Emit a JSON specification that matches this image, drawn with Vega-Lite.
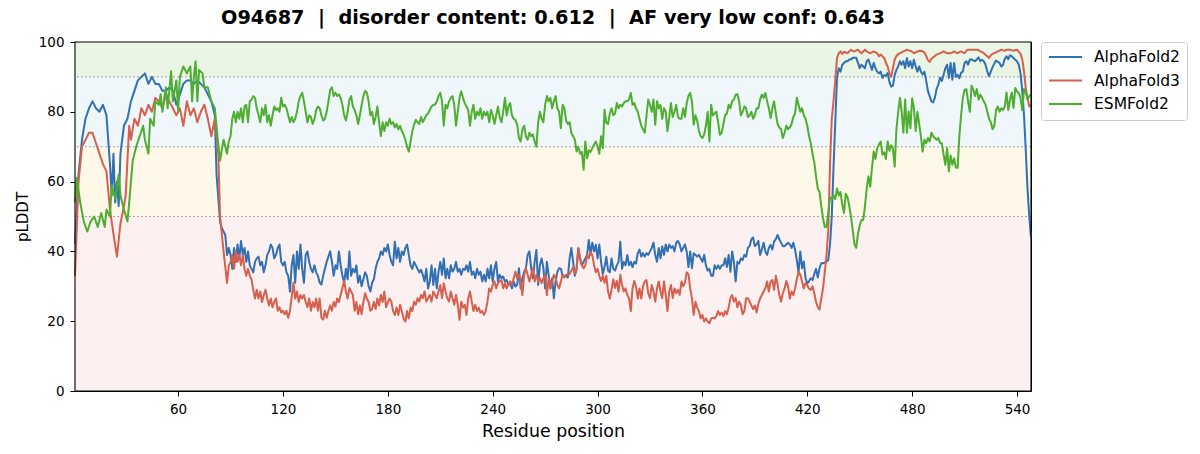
{
  "$schema": "https://vega.github.io/schema/vega-lite/v6.json",
  "width": 956,
  "height": 349,
  "autosize": {"type": "none"},
  "padding": {"left": 75, "top": 42, "right": 169, "bottom": 63},
  "background": "#ffffff",
  "title": {
    "text": "O94687\u00a0\u00a0|\u00a0\u00a0disorder content: 0.612\u00a0\u00a0|\u00a0\u00a0AF very low conf: 0.643",
    "anchor": "middle",
    "frame": "group",
    "font": "DejaVu Sans",
    "fontSize": 19.3,
    "fontWeight": "bold",
    "color": "#000000",
    "baseline": "alphabetic",
    "offset": 17,
    "dy": 25
  },
  "config": {
    "font": "DejaVu Sans",
    "view": {"stroke": "#000000", "strokeWidth": 1},
    "axis": {
      "labelFont": "DejaVu Sans",
      "titleFont": "DejaVu Sans",
      "labelColor": "#000000",
      "titleColor": "#000000",
      "tickColor": "#000000",
      "domain": false,
      "grid": false,
      "labelFontSize": 13.5,
      "tickSize": 5,
      "tickWidth": 1,
      "titleFontWeight": "normal"
    }
  },
  "datasets": {
    "bands": [
      {"lo": 0, "hi": 50, "tier": "very low"},
      {"lo": 50, "hi": 70, "tier": "low"},
      {"lo": 70, "hi": 90, "tier": "confident"},
      {"lo": 90, "hi": 100, "tier": "very high"}
    ],
    "cutoffs": [{"t": 50}, {"t": 70}, {"t": 90}],
    "frame": [{"x0": 1, "x1": 548, "y0": 0, "y1": 100}],
    "af2": [
      {"r":1,"v":42},{"r":3,"v":62},{"r":5,"v":72},{"r":7,"v":78},{"r":9,"v":81},{"r":11,"v":83},{"r":13,"v":81},{"r":15,"v":80},{"r":17,"v":82},{"r":19,"v":79},
      {"r":21,"v":65},{"r":22,"v":56},{"r":23,"v":68},{"r":24,"v":54},{"r":25,"v":60},{"r":26,"v":53},{"r":27,"v":68},{"r":29,"v":76},{"r":31,"v":78},{"r":33,"v":83},
      {"r":35,"v":86},{"r":37,"v":89},{"r":39,"v":90},{"r":41,"v":91},{"r":43,"v":88},{"r":45,"v":90},{"r":47,"v":88},{"r":49,"v":88},{"r":51,"v":86},{"r":53,"v":86},
      {"r":55,"v":87},{"r":57,"v":86},{"r":59,"v":82},{"r":61,"v":85},{"r":63,"v":88},{"r":65,"v":89},{"r":67,"v":89},{"r":69,"v":88},{"r":71,"v":89},{"r":73,"v":88},
      {"r":75,"v":87},{"r":77,"v":85},{"r":79,"v":83},{"r":81,"v":79},{"r":82,"v":62},{"r":84,"v":48.5},{"r":85,"v":46.7},{"r":87,"v":44.7},{"r":88,"v":39},{"r":89,"v":41},
      {"r":90,"v":39},{"r":91,"v":35},{"r":92,"v":41},{"r":93,"v":37},{"r":94,"v":42},{"r":95,"v":38},{"r":96,"v":43},{"r":97,"v":39},{"r":98,"v":41},{"r":99,"v":37},
      {"r":100,"v":40},{"r":101,"v":36},{"r":102,"v":35},{"r":103,"v":34},{"r":104,"v":37},{"r":105,"v":38},{"r":106,"v":38.5},{"r":107,"v":36},{"r":108,"v":37},{"r":109,"v":34},
      {"r":110,"v":36},{"r":111,"v":39},{"r":112,"v":40},{"r":113,"v":42},{"r":114,"v":41},{"r":115,"v":38},{"r":116,"v":39},{"r":117,"v":41},{"r":118,"v":42},{"r":119,"v":37},
      {"r":120,"v":36},{"r":121,"v":37},{"r":122,"v":34},{"r":123,"v":33},{"r":124,"v":28.5},{"r":125,"v":36},{"r":126,"v":39},{"r":127,"v":31},{"r":128,"v":40},{"r":129,"v":35},
      {"r":130,"v":42},{"r":131,"v":35},{"r":132,"v":31},{"r":133,"v":39},{"r":134,"v":40},{"r":135,"v":37},{"r":136,"v":35},{"r":137,"v":34},{"r":138,"v":36},{"r":139,"v":34},
      {"r":140,"v":33},{"r":141,"v":31},{"r":142,"v":30.5},{"r":143,"v":33},{"r":144,"v":35},{"r":145,"v":37},{"r":146,"v":38.5},{"r":147,"v":40},{"r":148,"v":37},{"r":149,"v":33},
      {"r":150,"v":36},{"r":151,"v":35},{"r":152,"v":40},{"r":153,"v":36},{"r":154,"v":33},{"r":155,"v":31},{"r":156,"v":35},{"r":157,"v":32},{"r":158,"v":40},{"r":159,"v":33},
      {"r":160,"v":35},{"r":161,"v":34},{"r":162,"v":36},{"r":163,"v":31},{"r":164,"v":33},{"r":165,"v":30},{"r":166,"v":32},{"r":167,"v":34},{"r":168,"v":33},{"r":169,"v":30},
      {"r":170,"v":28.5},{"r":171,"v":31},{"r":172,"v":32},{"r":173,"v":35},{"r":174,"v":37},{"r":175,"v":38},{"r":176,"v":40},{"r":177,"v":39},{"r":178,"v":41},{"r":179,"v":40},
      {"r":180,"v":42},{"r":181,"v":39},{"r":182,"v":37},{"r":183,"v":36},{"r":184,"v":42.8},{"r":185,"v":38},{"r":186,"v":41},{"r":187,"v":37},{"r":188,"v":40},{"r":189,"v":39},
      {"r":190,"v":41},{"r":191,"v":42},{"r":192,"v":39},{"r":193,"v":36},{"r":194,"v":35},{"r":195,"v":37},{"r":196,"v":36},{"r":197,"v":35},{"r":198,"v":34},{"r":199,"v":34.7},
      {"r":200,"v":33.3},{"r":201,"v":31.4},{"r":202,"v":35},{"r":203,"v":29.4},{"r":204,"v":31.4},{"r":205,"v":36},{"r":206,"v":30.4},{"r":207,"v":35},{"r":208,"v":29.4},{"r":209,"v":34.2},
      {"r":210,"v":37},{"r":211,"v":33.3},{"r":212,"v":38},{"r":213,"v":32.3},{"r":214,"v":35},{"r":215,"v":32.3},{"r":216,"v":36},{"r":217,"v":34.2},{"r":218,"v":35},{"r":219,"v":37},
      {"r":220,"v":34.2},{"r":221,"v":35},{"r":222,"v":33.3},{"r":223,"v":35},{"r":224,"v":34.7},{"r":225,"v":36},{"r":226,"v":34.2},{"r":227,"v":37},{"r":228,"v":33.3},{"r":229,"v":34.2},
      {"r":230,"v":32.3},{"r":231,"v":35},{"r":232,"v":33.3},{"r":233,"v":34.2},{"r":234,"v":31.4},{"r":235,"v":33.3},{"r":236,"v":31.4},{"r":237,"v":35},{"r":238,"v":32.3},{"r":239,"v":36},
      {"r":240,"v":31.4},{"r":241,"v":35},{"r":242,"v":37},{"r":243,"v":31.4},{"r":244,"v":33.3},{"r":245,"v":32.3},{"r":246,"v":32.8},{"r":247,"v":31.4},{"r":248,"v":31.8},{"r":249,"v":30.4},
      {"r":250,"v":30.9},{"r":251,"v":29.4},{"r":252,"v":31.4},{"r":253,"v":29.9},{"r":254,"v":30.4},{"r":255,"v":35.2},{"r":256,"v":29.4},{"r":257,"v":32.3},{"r":258,"v":34.2},{"r":259,"v":35.2},
      {"r":260,"v":39},{"r":261,"v":40},{"r":262,"v":35.2},{"r":263,"v":32.3},{"r":264,"v":37},{"r":265,"v":40.4},{"r":266,"v":30.4},{"r":267,"v":36},{"r":268,"v":38},{"r":269,"v":35.2},
      {"r":270,"v":29.4},{"r":271,"v":37},{"r":272,"v":33.3},{"r":273,"v":29.4},{"r":274,"v":32.3},{"r":275,"v":26.6},{"r":276,"v":31.4},{"r":277,"v":34.2},{"r":278,"v":35.2},{"r":279,"v":35},
      {"r":280,"v":33},{"r":281,"v":33},{"r":282,"v":33},{"r":283,"v":32.5},{"r":284,"v":38},{"r":285,"v":41},{"r":286,"v":37},{"r":287,"v":33},{"r":288,"v":35},{"r":289,"v":40.9},
      {"r":290,"v":38},{"r":291,"v":36},{"r":292,"v":37},{"r":293,"v":38},{"r":294,"v":39},{"r":295,"v":43.3},{"r":296,"v":39},{"r":297,"v":42.5},{"r":298,"v":40},{"r":299,"v":41.9},
      {"r":300,"v":38},{"r":301,"v":42},{"r":302,"v":37},{"r":303,"v":33.5},{"r":304,"v":35.5},{"r":305,"v":38.5},{"r":306,"v":34.5},{"r":307,"v":34},{"r":308,"v":38},{"r":309,"v":35},
      {"r":310,"v":34.5},{"r":311,"v":36},{"r":312,"v":37},{"r":313,"v":42.8},{"r":314,"v":35},{"r":315,"v":37},{"r":316,"v":36},{"r":317,"v":39},{"r":318,"v":36},{"r":319,"v":37},
      {"r":320,"v":35.5},{"r":321,"v":37},{"r":322,"v":36.5},{"r":323,"v":39.5},{"r":324,"v":40.5},{"r":325,"v":38.5},{"r":326,"v":39.5},{"r":327,"v":38.5},{"r":328,"v":39.5},{"r":329,"v":39},
      {"r":330,"v":40},{"r":331,"v":41},{"r":332,"v":42.5},{"r":333,"v":39},{"r":334,"v":37},{"r":335,"v":41},{"r":336,"v":38},{"r":337,"v":41.5},{"r":338,"v":39},{"r":339,"v":42},
      {"r":340,"v":40},{"r":341,"v":42},{"r":342,"v":41},{"r":343,"v":41.5},{"r":344,"v":40},{"r":345,"v":42.5},{"r":346,"v":43},{"r":347,"v":42},{"r":348,"v":40},{"r":349,"v":41},
      {"r":350,"v":42},{"r":351,"v":40},{"r":352,"v":35.5},{"r":353,"v":40},{"r":354,"v":35.2},{"r":355,"v":39.5},{"r":356,"v":39},{"r":357,"v":38.5},{"r":358,"v":39},{"r":359,"v":38},
      {"r":360,"v":37},{"r":361,"v":39},{"r":362,"v":36},{"r":363,"v":34.5},{"r":364,"v":35},{"r":365,"v":33},{"r":366,"v":33},{"r":367,"v":36},{"r":368,"v":35},{"r":369,"v":36},
      {"r":370,"v":35},{"r":371,"v":36},{"r":372,"v":36},{"r":373,"v":38},{"r":374,"v":35.5},{"r":375,"v":39},{"r":376,"v":34.2},{"r":377,"v":40},{"r":378,"v":37},{"r":379,"v":31.4},
      {"r":380,"v":37},{"r":381,"v":36.5},{"r":382,"v":38},{"r":383,"v":37.5},{"r":384,"v":39},{"r":385,"v":38.5},{"r":386,"v":41},{"r":387,"v":41.5},{"r":388,"v":43.5},{"r":389,"v":44},
      {"r":390,"v":41.5},{"r":391,"v":42},{"r":392,"v":43},{"r":393,"v":39},{"r":394,"v":40.5},{"r":395,"v":42.5},{"r":396,"v":40},{"r":397,"v":39},{"r":398,"v":41},{"r":399,"v":41.9},
      {"r":400,"v":40.5},{"r":401,"v":42.8},{"r":402,"v":43.5},{"r":403,"v":44.7},{"r":404,"v":43.5},{"r":405,"v":42.5},{"r":406,"v":41.5},{"r":407,"v":41.5},{"r":408,"v":42},{"r":409,"v":42.5},
      {"r":410,"v":42},{"r":411,"v":41},{"r":412,"v":42.5},{"r":413,"v":40.5},{"r":414,"v":37.5},{"r":415,"v":34},{"r":416,"v":40},{"r":417,"v":35.2},{"r":418,"v":37.1},{"r":419,"v":32.3},
      {"r":420,"v":30.8},{"r":421,"v":31.5},{"r":422,"v":32.3},{"r":423,"v":31.8},{"r":424,"v":33.5},{"r":425,"v":35},{"r":426,"v":32.5},{"r":427,"v":35.2},{"r":428,"v":36.6},{"r":429,"v":36.6},
      {"r":430,"v":36.8},{"r":431,"v":37},{"r":432,"v":37.5},{"r":433,"v":42},{"r":434,"v":50},{"r":435,"v":64},{"r":436,"v":77},{"r":437,"v":89.7},{"r":438,"v":92.5},{"r":439,"v":91.5},
      {"r":440,"v":93.5},{"r":441,"v":94},{"r":442,"v":94.5},{"r":443,"v":94.5},{"r":444,"v":95},{"r":445,"v":95},{"r":446,"v":95.5},{"r":447,"v":95.5},{"r":448,"v":95.5},{"r":449,"v":94},
      {"r":450,"v":92.5},{"r":451,"v":93.5},{"r":452,"v":93},{"r":453,"v":92.5},{"r":454,"v":94.5},{"r":455,"v":95},{"r":456,"v":93.5},{"r":457,"v":92},{"r":458,"v":94},{"r":459,"v":92.5},
      {"r":460,"v":91.5},{"r":461,"v":91},{"r":462,"v":91.5},{"r":463,"v":89.7},{"r":464,"v":90.5},{"r":465,"v":90.3},{"r":466,"v":91.1},{"r":467,"v":88.5},{"r":468,"v":87.2},{"r":469,"v":87.5},
      {"r":470,"v":90.5},{"r":471,"v":92},{"r":472,"v":93},{"r":473,"v":94.5},{"r":474,"v":93.5},{"r":475,"v":94.5},{"r":476,"v":92.5},{"r":477,"v":95.4},{"r":478,"v":93},{"r":479,"v":94.5},
      {"r":480,"v":92.5},{"r":481,"v":94.9},{"r":482,"v":93},{"r":483,"v":91.5},{"r":484,"v":93},{"r":485,"v":91.5},{"r":486,"v":90.7},{"r":487,"v":91.5},{"r":488,"v":89},{"r":489,"v":86},
      {"r":490,"v":84.5},{"r":491,"v":83},{"r":492,"v":82.7},{"r":493,"v":84},{"r":494,"v":86.6},{"r":495,"v":87.8},{"r":496,"v":89.8},{"r":497,"v":88.8},{"r":498,"v":90.6},{"r":499,"v":92.5},
      {"r":500,"v":93.5},{"r":501,"v":89.7},{"r":502,"v":94},{"r":503,"v":89.2},{"r":504,"v":94},{"r":505,"v":90},{"r":506,"v":90.6},{"r":507,"v":89.6},{"r":508,"v":91.2},{"r":509,"v":91.5},
      {"r":510,"v":94},{"r":511,"v":94.5},{"r":512,"v":93.5},{"r":513,"v":95},{"r":514,"v":95},{"r":515,"v":94.7},{"r":516,"v":94.5},{"r":517,"v":95},{"r":518,"v":95.6},{"r":519,"v":94.5},
      {"r":520,"v":94.9},{"r":521,"v":94.5},{"r":522,"v":93.5},{"r":523,"v":91.5},{"r":524,"v":90.2},{"r":525,"v":91.5},{"r":526,"v":92.8},{"r":527,"v":93.8},{"r":528,"v":94.7},{"r":529,"v":94.3},
      {"r":530,"v":94},{"r":531,"v":93},{"r":532,"v":93.5},{"r":533,"v":95.2},{"r":534,"v":95.9},{"r":535,"v":95.1},{"r":536,"v":96.2},{"r":537,"v":95.9},{"r":538,"v":95.4},{"r":539,"v":94.9},
      {"r":540,"v":94.5},{"r":541,"v":93.5},{"r":542,"v":91},{"r":543,"v":86},{"r":544,"v":79},{"r":545,"v":69},{"r":546,"v":58},{"r":547,"v":50},{"r":548,"v":44}
    ],
    "af3": [
      {"r":1,"v":33},{"r":3,"v":60},{"r":5,"v":70},{"r":7,"v":72},{"r":9,"v":74},{"r":11,"v":74},{"r":13,"v":71},{"r":15,"v":68},{"r":17,"v":65},{"r":19,"v":63},
      {"r":21,"v":52},{"r":23,"v":45},{"r":25,"v":38.5},{"r":27,"v":48},{"r":29,"v":53},{"r":30,"v":56},{"r":31,"v":66},{"r":32,"v":76},{"r":33,"v":72},{"r":35,"v":78},
      {"r":37,"v":76},{"r":39,"v":81},{"r":41,"v":79},{"r":43,"v":82},{"r":45,"v":80},{"r":47,"v":84},{"r":49,"v":83},{"r":51,"v":81},{"r":53,"v":85},{"r":55,"v":83},
      {"r":57,"v":81},{"r":59,"v":79},{"r":61,"v":81},{"r":63,"v":76},{"r":65,"v":83},{"r":67,"v":79},{"r":69,"v":81},{"r":71,"v":77},{"r":73,"v":80},{"r":75,"v":82},
      {"r":77,"v":78},{"r":79,"v":73},{"r":81,"v":78},{"r":83,"v":68},{"r":84,"v":50},{"r":86,"v":40},{"r":88,"v":31},{"r":89,"v":36},
      {"r":90,"v":37},{"r":91,"v":39},{"r":92,"v":35},{"r":93,"v":40},{"r":94,"v":37},{"r":95,"v":39},{"r":96,"v":36},{"r":97,"v":39},{"r":98,"v":35},{"r":99,"v":33},
      {"r":100,"v":35},{"r":101,"v":33},{"r":102,"v":32},{"r":103,"v":29},{"r":104,"v":26.5},{"r":105,"v":29},{"r":106,"v":26.5},{"r":107,"v":28.5},{"r":108,"v":25.5},{"r":109,"v":27.5},
      {"r":110,"v":29},{"r":111,"v":26.5},{"r":112,"v":24.5},{"r":113,"v":26.5},{"r":114,"v":24},{"r":115,"v":25.5},{"r":116,"v":26.5},{"r":117,"v":23},{"r":118,"v":24},{"r":119,"v":22.5},
      {"r":120,"v":23},{"r":121,"v":22},{"r":122,"v":23},{"r":123,"v":21},{"r":124,"v":23},{"r":125,"v":27},{"r":126,"v":31},{"r":127,"v":26.5},{"r":128,"v":28.5},{"r":129,"v":25.5},
      {"r":130,"v":27.5},{"r":131,"v":26.5},{"r":132,"v":27.5},{"r":133,"v":25.5},{"r":134,"v":24},{"r":135,"v":26.5},{"r":136,"v":23},{"r":137,"v":25.5},{"r":138,"v":24},{"r":139,"v":26.5},
      {"r":140,"v":23},{"r":141,"v":26.5},{"r":142,"v":21},{"r":143,"v":20.5},{"r":144,"v":23},{"r":145,"v":21},{"r":146,"v":23},{"r":147,"v":24.5},{"r":148,"v":23},{"r":149,"v":25.5},
      {"r":150,"v":24.2},{"r":151,"v":26.5},{"r":152,"v":25.5},{"r":153,"v":27.5},{"r":154,"v":29.5},{"r":155,"v":31.5},{"r":156,"v":28.5},{"r":157,"v":26.5},{"r":158,"v":29.5},{"r":159,"v":28.5},
      {"r":160,"v":27.5},{"r":161,"v":23},{"r":162,"v":25.5},{"r":163,"v":22},{"r":164,"v":24.5},{"r":165,"v":22},{"r":166,"v":25.5},{"r":167,"v":28},{"r":168,"v":26.5},{"r":169,"v":25.5},
      {"r":170,"v":23},{"r":171,"v":23.5},{"r":172,"v":25.5},{"r":173,"v":23.5},{"r":174,"v":26.5},{"r":175,"v":24.5},{"r":176,"v":27.5},{"r":177,"v":25.5},{"r":178,"v":28.5},{"r":179,"v":24},
      {"r":180,"v":25.5},{"r":181,"v":26.5},{"r":182,"v":25.6},{"r":183,"v":22.9},{"r":184,"v":21.8},{"r":185,"v":23.9},{"r":186,"v":21.8},{"r":187,"v":24.7},{"r":188,"v":22.9},{"r":189,"v":20.8},
      {"r":190,"v":19.9},{"r":191,"v":22.9},{"r":192,"v":20.8},{"r":193,"v":23.9},{"r":194,"v":22.9},{"r":195,"v":25.6},{"r":196,"v":24.7},{"r":197,"v":26.6},{"r":198,"v":25.6},{"r":199,"v":27.5},
      {"r":200,"v":26.6},{"r":201,"v":28.5},{"r":202,"v":25.6},{"r":203,"v":26.6},{"r":204,"v":27.5},{"r":205,"v":25.6},{"r":206,"v":28.5},{"r":207,"v":27.5},{"r":208,"v":26.6},{"r":209,"v":28.5},
      {"r":210,"v":30.4},{"r":211,"v":26.6},{"r":212,"v":30.9},{"r":213,"v":28.5},{"r":214,"v":26.6},{"r":215,"v":25.6},{"r":216,"v":28.5},{"r":217,"v":26.6},{"r":218,"v":24.7},{"r":219,"v":27.5},
      {"r":220,"v":24.7},{"r":221,"v":20.4},{"r":222,"v":25.6},{"r":223,"v":23.9},{"r":224,"v":24.7},{"r":225,"v":21.8},{"r":226,"v":26.6},{"r":227,"v":28.5},{"r":228,"v":25.6},{"r":229,"v":22.9},
      {"r":230,"v":24.7},{"r":231,"v":22.9},{"r":232,"v":23.9},{"r":233,"v":22.4},{"r":234,"v":22.9},{"r":235,"v":21.8},{"r":236,"v":22.9},{"r":237,"v":25.6},{"r":238,"v":29.4},{"r":239,"v":28.5},
      {"r":240,"v":30.4},{"r":241,"v":31.4},{"r":242,"v":29.4},{"r":243,"v":30.9},{"r":244,"v":31.4},{"r":245,"v":31.8},{"r":246,"v":29.4},{"r":247,"v":30.9},{"r":248,"v":29.4},{"r":249,"v":30.4},
      {"r":250,"v":31.4},{"r":251,"v":30.4},{"r":252,"v":32.3},{"r":253,"v":34.2},{"r":254,"v":32.3},{"r":255,"v":33.3},{"r":256,"v":31.4},{"r":257,"v":27.5},{"r":258,"v":33.3},{"r":259,"v":35.2},
      {"r":260,"v":33.3},{"r":261,"v":31.4},{"r":262,"v":33.3},{"r":263,"v":35.2},{"r":264,"v":31.4},{"r":265,"v":33.3},{"r":266,"v":31.4},{"r":267,"v":32.3},{"r":268,"v":30.9},{"r":269,"v":32.3},
      {"r":270,"v":33.3},{"r":271,"v":27.5},{"r":272,"v":32.3},{"r":273,"v":29.4},{"r":274,"v":31.4},{"r":275,"v":33.3},{"r":276,"v":32.3},{"r":277,"v":30.4},{"r":278,"v":29.4},{"r":279,"v":31.4},
      {"r":280,"v":33.3},{"r":281,"v":32.5},{"r":282,"v":33.3},{"r":283,"v":33.3},{"r":284,"v":33.5},{"r":285,"v":34.5},{"r":286,"v":35.5},{"r":287,"v":33.5},{"r":288,"v":35},{"r":289,"v":40.9},
      {"r":290,"v":38},{"r":291,"v":36},{"r":292,"v":35.2},{"r":293,"v":36},{"r":294,"v":39},{"r":295,"v":38},{"r":296,"v":40},{"r":297,"v":39},{"r":298,"v":36},{"r":299,"v":34},
      {"r":300,"v":35},{"r":301,"v":33},{"r":302,"v":31.5},{"r":303,"v":33},{"r":304,"v":31},{"r":305,"v":33},{"r":306,"v":28.5},{"r":307,"v":26.5},{"r":308,"v":29},{"r":309,"v":32},
      {"r":310,"v":29.5},{"r":311,"v":31.5},{"r":312,"v":28.5},{"r":313,"v":33.3},{"r":314,"v":30.4},{"r":315,"v":28.5},{"r":316,"v":29.4},{"r":317,"v":27.5},{"r":318,"v":26.6},{"r":319,"v":22.9},
      {"r":320,"v":29.4},{"r":321,"v":31.5},{"r":322,"v":30},{"r":323,"v":26.5},{"r":324,"v":29.4},{"r":325,"v":26.5},{"r":326,"v":30},{"r":327,"v":31.4},{"r":328,"v":31.8},{"r":329,"v":28},
      {"r":330,"v":26.6},{"r":331,"v":30.4},{"r":332,"v":28.5},{"r":333,"v":25.6},{"r":334,"v":29.4},{"r":335,"v":31.4},{"r":336,"v":28.5},{"r":337,"v":26.6},{"r":338,"v":31.4},{"r":339,"v":27.5},
      {"r":340,"v":22.9},{"r":341,"v":28.5},{"r":342,"v":30.4},{"r":343,"v":26.6},{"r":344,"v":29.4},{"r":345,"v":28},{"r":346,"v":29},{"r":347,"v":27.5},{"r":348,"v":31.4},{"r":349,"v":30},
      {"r":350,"v":31},{"r":351,"v":34},{"r":352,"v":33.5},{"r":353,"v":29.4},{"r":354,"v":26.6},{"r":355,"v":21.8},{"r":356,"v":25.6},{"r":357,"v":23.9},{"r":358,"v":22.9},{"r":359,"v":20.8},
      {"r":360,"v":21.8},{"r":361,"v":19.9},{"r":362,"v":20.8},{"r":363,"v":19.9},{"r":364,"v":19.4},{"r":365,"v":20.8},{"r":366,"v":21},{"r":367,"v":20.8},{"r":368,"v":21.5},{"r":369,"v":22.9},
      {"r":370,"v":21.8},{"r":371,"v":22.5},{"r":372,"v":21.5},{"r":373,"v":22.9},{"r":374,"v":22},{"r":375,"v":23.9},{"r":376,"v":26.6},{"r":377,"v":27.5},{"r":378,"v":25.6},{"r":379,"v":26.6},
      {"r":380,"v":24},{"r":381,"v":25.6},{"r":382,"v":24.7},{"r":383,"v":22},{"r":384,"v":22.9},{"r":385,"v":26.6},{"r":386,"v":26.6},{"r":387,"v":25.6},{"r":388,"v":24.5},{"r":389,"v":23.5},
      {"r":390,"v":24.5},{"r":391,"v":22.5},{"r":392,"v":25},{"r":393,"v":26.5},{"r":394,"v":27.5},{"r":395,"v":28.5},{"r":396,"v":29.4},{"r":397,"v":31.4},{"r":398,"v":28.5},{"r":399,"v":31.4},
      {"r":400,"v":31.8},{"r":401,"v":29},{"r":402,"v":33},{"r":403,"v":30.5},{"r":404,"v":27.5},{"r":405,"v":25.6},{"r":406,"v":28},{"r":407,"v":29.4},{"r":408,"v":31.5},{"r":409,"v":30},
      {"r":410,"v":26.5},{"r":411,"v":28.5},{"r":412,"v":27.5},{"r":413,"v":29.4},{"r":414,"v":32},{"r":415,"v":34.2},{"r":416,"v":33.3},{"r":417,"v":31.4},{"r":418,"v":29.4},{"r":419,"v":30.9},
      {"r":420,"v":30.3},{"r":421,"v":29.3},{"r":422,"v":29},{"r":423,"v":30},{"r":424,"v":28},{"r":425,"v":25.5},{"r":426,"v":24},{"r":427,"v":23.3},{"r":428,"v":26.5},{"r":429,"v":29.5},
      {"r":430,"v":34},{"r":431,"v":39},{"r":432,"v":46},{"r":433,"v":65},{"r":434,"v":78},{"r":435,"v":83},{"r":436,"v":89},{"r":437,"v":95.4},{"r":438,"v":96.8},{"r":439,"v":97.3},
      {"r":440,"v":96.6},{"r":441,"v":97.2},{"r":442,"v":97},{"r":443,"v":96.8},{"r":444,"v":97.3},{"r":445,"v":97.8},{"r":446,"v":97.4},{"r":447,"v":97.3},{"r":448,"v":97.6},{"r":449,"v":97.8},
      {"r":450,"v":97.2},{"r":451,"v":96.8},{"r":452,"v":97.3},{"r":453,"v":97.8},{"r":454,"v":97.3},{"r":455,"v":97},{"r":456,"v":96.8},{"r":457,"v":97},{"r":458,"v":97.3},{"r":459,"v":97},
      {"r":460,"v":96.8},{"r":461,"v":95.9},{"r":462,"v":96.4},{"r":463,"v":95.9},{"r":464,"v":95.4},{"r":465,"v":94},{"r":466,"v":93},{"r":467,"v":91},{"r":468,"v":90},{"r":469,"v":92.5},
      {"r":470,"v":95},{"r":471,"v":96},{"r":472,"v":96.5},{"r":473,"v":96.8},{"r":474,"v":97},{"r":475,"v":97.3},{"r":476,"v":97.5},{"r":477,"v":97.8},{"r":478,"v":97.6},{"r":479,"v":97.5},
      {"r":480,"v":97.2},{"r":481,"v":96.8},{"r":482,"v":97},{"r":483,"v":97.3},{"r":484,"v":97.4},{"r":485,"v":97.5},{"r":486,"v":97.3},{"r":487,"v":97},{"r":488,"v":96},{"r":489,"v":94.8},
      {"r":490,"v":94.3},{"r":491,"v":95.2},{"r":492,"v":95.6},{"r":493,"v":96},{"r":494,"v":96.4},{"r":495,"v":96.6},{"r":496,"v":96.8},{"r":497,"v":97},{"r":498,"v":97.3},{"r":499,"v":97},
      {"r":500,"v":96.8},{"r":501,"v":96.8},{"r":502,"v":96.8},{"r":503,"v":97},{"r":504,"v":97.3},{"r":505,"v":97},{"r":506,"v":96.8},{"r":507,"v":97.1},{"r":508,"v":97.3},{"r":509,"v":97},
      {"r":510,"v":96.8},{"r":511,"v":97.5},{"r":512,"v":97.8},{"r":513,"v":97.8},{"r":514,"v":97.8},{"r":515,"v":97.8},{"r":516,"v":97.8},{"r":517,"v":97.8},{"r":518,"v":97.7},{"r":519,"v":97.3},
      {"r":520,"v":97.1},{"r":521,"v":96.8},{"r":522,"v":96.3},{"r":523,"v":95.9},{"r":524,"v":95.4},{"r":525,"v":96.2},{"r":526,"v":96.6},{"r":527,"v":96.8},{"r":528,"v":97},{"r":529,"v":97.3},
      {"r":530,"v":97.5},{"r":531,"v":97.8},{"r":532,"v":97.6},{"r":533,"v":97.5},{"r":534,"v":97.8},{"r":535,"v":97.8},{"r":536,"v":97.8},{"r":537,"v":97.6},{"r":538,"v":97.5},{"r":539,"v":97.7},
      {"r":540,"v":97.8},{"r":541,"v":97.2},{"r":542,"v":96.6},{"r":543,"v":95},{"r":544,"v":91.5},{"r":545,"v":86.8},{"r":546,"v":84},{"r":547,"v":81.5},{"r":548,"v":82}
    ],
    "esm": [
      {"r":1,"v":54},{"r":2,"v":61},{"r":4,"v":54},{"r":6,"v":48.6},{"r":8,"v":45.7},{"r":10,"v":48.6},{"r":12,"v":50},{"r":14,"v":47},{"r":16,"v":51},{"r":18,"v":47},
      {"r":19,"v":52},{"r":21,"v":50},{"r":22,"v":59},{"r":24,"v":55},{"r":26,"v":62},{"r":27,"v":56},{"r":29,"v":52},{"r":31,"v":48.6},{"r":32,"v":54},{"r":34,"v":66},
      {"r":36,"v":70},{"r":38,"v":73},{"r":40,"v":76},{"r":41,"v":72},{"r":43,"v":68},{"r":44,"v":78},{"r":46,"v":76},{"r":47,"v":83},{"r":49,"v":82},{"r":50,"v":85},
      {"r":51,"v":80},{"r":53,"v":87},{"r":54,"v":81},{"r":56,"v":91.6},{"r":57,"v":83},{"r":59,"v":89},{"r":60,"v":80},{"r":61,"v":90},{"r":63,"v":93},{"r":65,"v":91},
      {"r":67,"v":93},{"r":68,"v":83},{"r":69,"v":90},{"r":70,"v":94.5},{"r":71,"v":83},{"r":72,"v":92},{"r":74,"v":91},{"r":75,"v":87},{"r":77,"v":87},{"r":79,"v":83},
      {"r":81,"v":81},{"r":83,"v":70.6},{"r":84,"v":66},{"r":86,"v":72},{"r":88,"v":68},{"r":89,"v":71.5},
      {"r":90,"v":73},{"r":91,"v":78},{"r":92,"v":80},{"r":93,"v":77},{"r":94,"v":80},{"r":95,"v":78},{"r":96,"v":81},{"r":97,"v":77},{"r":98,"v":81.5},{"r":99,"v":82},
      {"r":100,"v":77},{"r":101,"v":83},{"r":102,"v":83.5},{"r":103,"v":84.5},{"r":104,"v":84},{"r":105,"v":81},{"r":106,"v":79},{"r":107,"v":77},{"r":108,"v":81},{"r":109,"v":79},
      {"r":110,"v":82},{"r":111,"v":77},{"r":112,"v":79},{"r":113,"v":76},{"r":114,"v":79},{"r":115,"v":81.5},{"r":116,"v":80.5},{"r":117,"v":81},{"r":118,"v":80},{"r":119,"v":84},
      {"r":120,"v":81.5},{"r":121,"v":82},{"r":122,"v":81},{"r":123,"v":79},{"r":124,"v":77},{"r":125,"v":78.5},{"r":126,"v":77},{"r":127,"v":78},{"r":128,"v":80},{"r":129,"v":83},
      {"r":130,"v":84.5},{"r":131,"v":85.5},{"r":132,"v":83},{"r":133,"v":80},{"r":134,"v":77},{"r":135,"v":79},{"r":136,"v":78.5},{"r":137,"v":76.5},{"r":138,"v":78},{"r":139,"v":80.5},
      {"r":140,"v":81.5},{"r":141,"v":81},{"r":142,"v":79},{"r":143,"v":77.5},{"r":144,"v":78},{"r":145,"v":80},{"r":146,"v":83},{"r":147,"v":86.3},{"r":148,"v":87},{"r":149,"v":84.5},
      {"r":150,"v":85.5},{"r":151,"v":84.5},{"r":152,"v":85},{"r":153,"v":84},{"r":154,"v":82},{"r":155,"v":79},{"r":156,"v":77.5},{"r":157,"v":80},{"r":158,"v":83.5},{"r":159,"v":84.5},
      {"r":160,"v":81.5},{"r":161,"v":80.5},{"r":162,"v":79},{"r":163,"v":76.5},{"r":164,"v":79},{"r":165,"v":82},{"r":166,"v":84.5},{"r":167,"v":86},{"r":168,"v":85.5},{"r":169,"v":83},
      {"r":170,"v":79},{"r":171,"v":80},{"r":172,"v":76.5},{"r":173,"v":78.5},{"r":174,"v":81.5},{"r":175,"v":77},{"r":176,"v":73},{"r":177,"v":77},{"r":178,"v":74.5},{"r":179,"v":77},
      {"r":180,"v":76},{"r":181,"v":78},{"r":182,"v":76.5},{"r":183,"v":77},{"r":184,"v":75.5},{"r":185,"v":76.5},{"r":186,"v":75},{"r":187,"v":76},{"r":188,"v":74.5},{"r":189,"v":73.5},
      {"r":190,"v":72},{"r":191,"v":70},{"r":192,"v":68.6},{"r":193,"v":71.5},{"r":194,"v":74.4},{"r":195,"v":76.3},{"r":196,"v":77.7},{"r":197,"v":77},{"r":198,"v":76.5},{"r":199,"v":78.5},
      {"r":200,"v":77},{"r":201,"v":78},{"r":202,"v":79},{"r":203,"v":79.5},{"r":204,"v":80.5},{"r":205,"v":81.5},{"r":206,"v":82},{"r":207,"v":82},{"r":208,"v":83},{"r":209,"v":84.5},
      {"r":210,"v":85.5},{"r":211,"v":83},{"r":212,"v":76},{"r":213,"v":82},{"r":214,"v":81},{"r":215,"v":83},{"r":216,"v":84},{"r":217,"v":84.5},{"r":218,"v":82},{"r":219,"v":76},
      {"r":220,"v":80},{"r":221,"v":84},{"r":222,"v":85.9},{"r":223,"v":84},{"r":224,"v":82.5},{"r":225,"v":81.5},{"r":226,"v":80.5},{"r":227,"v":76},{"r":228,"v":80},{"r":229,"v":82},
      {"r":230,"v":78},{"r":231,"v":80},{"r":232,"v":79},{"r":233,"v":81},{"r":234,"v":78},{"r":235,"v":80},{"r":236,"v":79},{"r":237,"v":80},{"r":238,"v":77},{"r":239,"v":80.5},
      {"r":240,"v":79},{"r":241,"v":76.5},{"r":242,"v":79},{"r":243,"v":81.5},{"r":244,"v":78.5},{"r":245,"v":77},{"r":246,"v":80},{"r":247,"v":84},{"r":248,"v":79},{"r":249,"v":81.5},
      {"r":250,"v":82.5},{"r":251,"v":79},{"r":252,"v":78},{"r":253,"v":77.7},{"r":254,"v":76.3},{"r":255,"v":72.5},{"r":256,"v":71.5},{"r":257,"v":75},{"r":258,"v":76},{"r":259,"v":73},
      {"r":260,"v":72},{"r":261,"v":74},{"r":262,"v":73},{"r":263,"v":73.5},{"r":264,"v":71.5},{"r":265,"v":70},{"r":266,"v":77},{"r":267,"v":80},{"r":268,"v":78},{"r":269,"v":77},
      {"r":270,"v":82},{"r":271,"v":84.5},{"r":272,"v":83},{"r":273,"v":84},{"r":274,"v":81},{"r":275,"v":83},{"r":276,"v":84.5},{"r":277,"v":81},{"r":278,"v":80},{"r":279,"v":75.3},
      {"r":280,"v":82},{"r":281,"v":81},{"r":282,"v":77.5},{"r":283,"v":76.5},{"r":284,"v":77},{"r":285,"v":74},{"r":286,"v":73},{"r":287,"v":72},{"r":288,"v":68.6},{"r":289,"v":70},
      {"r":290,"v":68},{"r":291,"v":68.5},{"r":292,"v":63.4},{"r":293,"v":71.5},{"r":294,"v":66.7},{"r":295,"v":69},{"r":296,"v":68.5},{"r":297,"v":69.6},{"r":298,"v":70.6},{"r":299,"v":71.5},
      {"r":300,"v":70},{"r":301,"v":68},{"r":302,"v":73},{"r":303,"v":69.6},{"r":304,"v":80.6},{"r":305,"v":76.8},{"r":306,"v":76.5},{"r":307,"v":79.5},{"r":308,"v":81},{"r":309,"v":79},
      {"r":310,"v":79.5},{"r":311,"v":82.5},{"r":312,"v":81},{"r":313,"v":82},{"r":314,"v":81.5},{"r":315,"v":82.5},{"r":316,"v":83},{"r":317,"v":83},{"r":318,"v":83.5},{"r":319,"v":85.4},
      {"r":320,"v":82},{"r":321,"v":82.5},{"r":322,"v":81},{"r":323,"v":80},{"r":324,"v":78},{"r":325,"v":76},{"r":326,"v":75},{"r":327,"v":74},{"r":328,"v":79},{"r":329,"v":83.5},
      {"r":330,"v":82},{"r":331,"v":80},{"r":332,"v":83.5},{"r":333,"v":76.3},{"r":334,"v":83},{"r":335,"v":81},{"r":336,"v":82},{"r":337,"v":78},{"r":338,"v":81},{"r":339,"v":80},
      {"r":340,"v":74.4},{"r":341,"v":78.5},{"r":342,"v":82.5},{"r":343,"v":78.5},{"r":344,"v":80},{"r":345,"v":82},{"r":346,"v":78.5},{"r":347,"v":78},{"r":348,"v":78},{"r":349,"v":81},
      {"r":350,"v":78.5},{"r":351,"v":82.5},{"r":352,"v":84.5},{"r":353,"v":85.4},{"r":354,"v":83},{"r":355,"v":76.3},{"r":356,"v":79},{"r":357,"v":77.5},{"r":358,"v":74.5},{"r":359,"v":73},
      {"r":360,"v":72.5},{"r":361,"v":73.5},{"r":362,"v":76},{"r":363,"v":80},{"r":364,"v":71.5},{"r":365,"v":82},{"r":366,"v":79},{"r":367,"v":79.5},{"r":368,"v":80},{"r":369,"v":77},
      {"r":370,"v":73.4},{"r":371,"v":74},{"r":372,"v":76.5},{"r":373,"v":79},{"r":374,"v":79.5},{"r":375,"v":82},{"r":376,"v":81},{"r":377,"v":83},{"r":378,"v":83.5},{"r":379,"v":84.9},
      {"r":380,"v":85},{"r":381,"v":83},{"r":382,"v":79},{"r":383,"v":80},{"r":384,"v":81.5},{"r":385,"v":81},{"r":386,"v":78.5},{"r":387,"v":79},{"r":388,"v":80},{"r":389,"v":78},
      {"r":390,"v":79},{"r":391,"v":81},{"r":392,"v":81},{"r":393,"v":83.5},{"r":394,"v":84.9},{"r":395,"v":84},{"r":396,"v":85.4},{"r":397,"v":83},{"r":398,"v":81},{"r":399,"v":78.2},
      {"r":400,"v":81},{"r":401,"v":83},{"r":402,"v":79.5},{"r":403,"v":76.5},{"r":404,"v":75.5},{"r":405,"v":75},{"r":406,"v":72.5},{"r":407,"v":74},{"r":408,"v":76},{"r":409,"v":75},
      {"r":410,"v":75.5},{"r":411,"v":76.5},{"r":412,"v":78.5},{"r":413,"v":79.5},{"r":414,"v":84},{"r":415,"v":82},{"r":416,"v":80},{"r":417,"v":81},{"r":418,"v":79},{"r":419,"v":78},
      {"r":420,"v":76},{"r":421,"v":73},{"r":422,"v":71},{"r":423,"v":68},{"r":424,"v":65.5},{"r":425,"v":61.5},{"r":426,"v":58},{"r":427,"v":57},{"r":428,"v":53},{"r":429,"v":49.5},
      {"r":430,"v":47},{"r":431,"v":47},{"r":432,"v":51},{"r":433,"v":55.5},{"r":434,"v":55},{"r":435,"v":56},{"r":436,"v":55},{"r":437,"v":58},{"r":438,"v":56},{"r":439,"v":57},
      {"r":440,"v":53.5},{"r":441,"v":51},{"r":442,"v":56.5},{"r":443,"v":55.5},{"r":444,"v":53},{"r":445,"v":50},{"r":446,"v":46},{"r":447,"v":42},{"r":448,"v":41},{"r":449,"v":45},
      {"r":450,"v":47.5},{"r":451,"v":49},{"r":452,"v":49},{"r":453,"v":53},{"r":454,"v":58},{"r":455,"v":61.5},{"r":456,"v":58.5},{"r":457,"v":63.9},{"r":458,"v":68.6},{"r":459,"v":66.5},
      {"r":460,"v":69.6},{"r":461,"v":70.6},{"r":462,"v":71.5},{"r":463,"v":67.7},{"r":464,"v":68.4},{"r":465,"v":66.5},{"r":466,"v":71.5},{"r":467,"v":68.8},{"r":468,"v":70.4},{"r":469,"v":69.4},
      {"r":470,"v":64.3},{"r":471,"v":75},{"r":472,"v":80},{"r":473,"v":84},{"r":474,"v":80},{"r":475,"v":74},{"r":476,"v":83.5},{"r":477,"v":74},{"r":478,"v":80.1},{"r":479,"v":75.3},
      {"r":480,"v":83.9},{"r":481,"v":81.1},{"r":482,"v":74.5},{"r":483,"v":80},{"r":484,"v":76.5},{"r":485,"v":73},{"r":486,"v":68.6},{"r":487,"v":72},{"r":488,"v":71},{"r":489,"v":72.5},
      {"r":490,"v":71.5},{"r":491,"v":74},{"r":492,"v":73},{"r":493,"v":72.5},{"r":494,"v":72},{"r":495,"v":72.5},{"r":496,"v":71},{"r":497,"v":71},{"r":498,"v":67.7},{"r":499,"v":64.8},
      {"r":500,"v":69.6},{"r":501,"v":62.9},{"r":502,"v":67.5},{"r":503,"v":64.8},{"r":504,"v":66.7},{"r":505,"v":64},{"r":506,"v":64},{"r":507,"v":73},{"r":508,"v":79},{"r":509,"v":84},
      {"r":510,"v":86.3},{"r":511,"v":86.5},{"r":512,"v":83},{"r":513,"v":80},{"r":514,"v":87.5},{"r":515,"v":86.3},{"r":516,"v":84.5},{"r":517,"v":86.5},{"r":518,"v":83.5},{"r":519,"v":84.9},
      {"r":520,"v":84},{"r":521,"v":83},{"r":522,"v":82},{"r":523,"v":80},{"r":524,"v":78},{"r":525,"v":77},{"r":526,"v":75},{"r":527,"v":76},{"r":528,"v":80.5},{"r":529,"v":81.5},
      {"r":530,"v":80},{"r":531,"v":81},{"r":532,"v":80.5},{"r":533,"v":81.5},{"r":534,"v":85.5},{"r":535,"v":80.5},{"r":536,"v":83.5},{"r":537,"v":85.5},{"r":538,"v":81.1},{"r":539,"v":86.8},
      {"r":540,"v":85.9},{"r":541,"v":85.4},{"r":542,"v":84},{"r":543,"v":80.5},{"r":544,"v":86.5},{"r":545,"v":85.5},{"r":546,"v":83.5},{"r":547,"v":84.5},{"r":548,"v":85}
    ]
  },
  "layer": [
    {
      "data": {"name": "bands"},
      "mark": {"type": "rect"},
      "encoding": {
        "x": {
          "datum": 1,
          "type": "quantitative",
          "title": "Residue position",
          "scale": {"domain": [1, 548], "nice": false, "zero": false},
          "axis": {
            "values": [60, 120, 180, 240, 300, 360, 420, 480, 540],
            "format": "d",
            "labelPadding": 6,
            "titlePadding": 7,
            "titleFontSize": 17.4,
            "labelFlush": false,
            "labelOverlap": false
          }
        },
        "x2": {"datum": 548},
        "y": {
          "field": "lo",
          "type": "quantitative",
          "title": "pLDDT",
          "scale": {"domain": [0, 100], "nice": false, "zero": false},
          "axis": {
            "values": [0, 20, 40, 60, 80, 100],
            "labelPadding": 6,
            "titlePadding": 8,
            "titleFontSize": 15,
            "labelFlush": false
          }
        },
        "y2": {"field": "hi"},
        "fill": {
          "field": "tier",
          "type": "nominal",
          "legend": null,
          "scale": {
            "domain": ["very low", "low", "confident", "very high"],
            "range": ["#fcf1f0", "#fdf8e8", "#f0f7fa", "#eaf5e6"]
          }
        }
      }
    },
    {
      "data": {"name": "cutoffs"},
      "mark": {"type": "rule", "color": "#808080", "strokeDash": [2, 2], "strokeWidth": 0.7},
      "encoding": {
        "y": {"field": "t", "type": "quantitative", "title": "pLDDT"}
      }
    },
    {
      "data": {"name": "af2"},
      "mark": {"type": "line", "strokeWidth": 2, "strokeJoin": "round"},
      "encoding": {
        "x": {"field": "r", "type": "quantitative", "title": "Residue position"},
        "y": {"field": "v", "type": "quantitative", "title": "pLDDT"},
        "color": {
          "datum": "AlphaFold2",
          "type": "nominal",
          "scale": {
            "domain": ["AlphaFold2", "AlphaFold3", "ESMFold2"],
            "range": ["#3070b3", "#d6604d", "#4dae2f"]
          },
          "legend": {
            "title": null,
            "orient": "none",
            "legendX": 966,
            "legendY": 0,
            "symbolType": "stroke",
            "symbolSize": 1089,
            "symbolStrokeWidth": 2,
            "labelFont": "DejaVu Sans",
            "labelFontSize": 15.5,
            "labelColor": "#000000",
            "labelOffset": 11,
            "padding": 7,
            "rowPadding": 6.5,
            "clipHeight": 16,
            "strokeColor": "#cccccc",
            "fillColor": "#ffffff",
            "cornerRadius": 3
          }
        }
      }
    },
    {
      "data": {"name": "af3"},
      "mark": {"type": "line", "strokeWidth": 2, "strokeJoin": "round"},
      "encoding": {
        "x": {"field": "r", "type": "quantitative", "title": "Residue position"},
        "y": {"field": "v", "type": "quantitative", "title": "pLDDT"},
        "color": {"datum": "AlphaFold3", "type": "nominal"}
      }
    },
    {
      "data": {"name": "esm"},
      "mark": {"type": "line", "strokeWidth": 2, "strokeJoin": "round"},
      "encoding": {
        "x": {"field": "r", "type": "quantitative", "title": "Residue position"},
        "y": {"field": "v", "type": "quantitative", "title": "pLDDT"},
        "color": {"datum": "ESMFold2", "type": "nominal"}
      }
    },
    {
      "data": {"name": "frame"},
      "mark": {"type": "rect", "fill": null, "fillOpacity": 0, "stroke": "#000000", "strokeWidth": 1.1},
      "encoding": {
        "x": {"field": "x0", "type": "quantitative", "title": "Residue position"},
        "x2": {"field": "x1"},
        "y": {"field": "y0", "type": "quantitative", "title": "pLDDT"},
        "y2": {"field": "y1"}
      }
    }
  ]
}
